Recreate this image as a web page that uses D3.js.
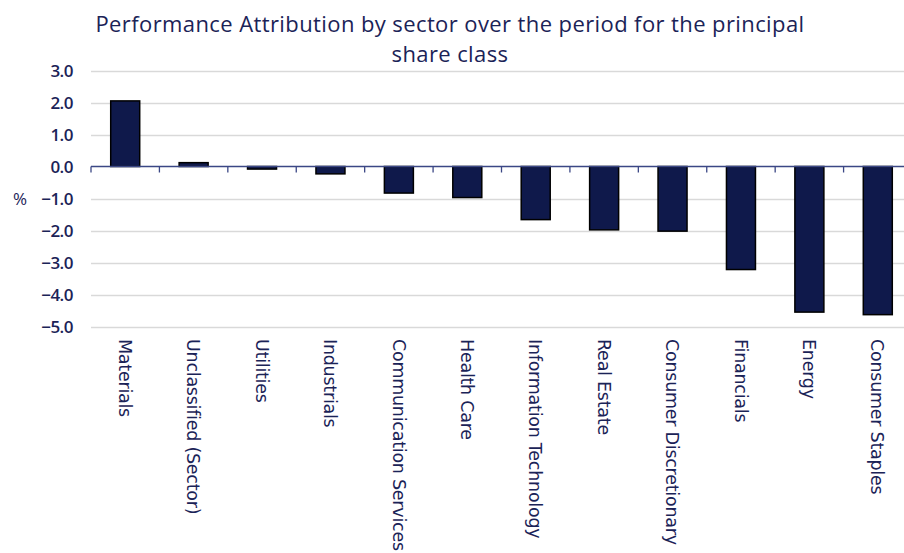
<!DOCTYPE html>
<html>
<head>
<meta charset="utf-8">
<script src="https://cdn.jsdelivr.net/npm/d3@7"></script>
<style>
  body { margin: 0; background: #fff; }
  svg { display: block; }
</style>
</head>
<body>
<script>
"use strict";

// sectors, in the order they are drawn
let sectors = ["Materials", "Unclassified (Sector)", "Utilities", "Industrials",
    "Communication Services", "Health Care", "Information Technology", "Real Estate",
    "Consumer Discretionary", "Financials", "Energy", "Consumer Staples"];
// attribution, %
let attribution = [2.05, 0.12, -0.08, -0.23, -0.83, -0.97, -1.66, -1.98, -2.02, -3.22, -4.55, -4.63];
let yTicks = [3, 2, 1, 0, -1, -2, -3, -4, -5];
let titleLines = ["Performance Attribution by sector over the period for the principal", "share class"];

let w = 904, h = 553;
let navy = "#1b2357";

let svg = d3.select("body").append("svg")
    .attr("width", w)
    .attr("height", h);

let x = d3.scaleBand()
    .domain(sectors)
    .range([91, 912])
    .paddingInner(0)
    .paddingOuter(0);

let y = d3.scaleLinear()
    .domain([-5, 3])
    .range([326.5, 70.5]);

// gridlines
svg.append("g")
    .selectAll("line")
    .data(yTicks.filter(function (d) { return d !== 0; }))
    .enter()
    .append("line")
    .attr("x1", 91)
    .attr("x2", 912)
    .attr("y1", function (d) { return Math.round(y(d)) + 0.5; })
    .attr("y2", function (d) { return Math.round(y(d)) + 0.5; })
    .style("stroke", "#d9d9d9")
    .style("stroke-width", 1.3);

// y tick labels
svg.append("g")
    .selectAll("text")
    .data(yTicks)
    .enter()
    .append("text")
    .attr("x", 73)
    .attr("y", function (d) { return y(d); })
    .attr("dy", "0.36em")
    .attr("text-anchor", "end")
    .style("font", "600 17px 'Open Sans', sans-serif")
    .style("letter-spacing", "-0.5px")
    .style("fill", navy)
    .text(function (d) { return d3.format(".1f")(d); });

svg.append("text")
    .attr("x", 20)
    .attr("y", y(-1))
    .attr("dy", "0.36em")
    .attr("text-anchor", "middle")
    .style("font", "17px 'Open Sans', sans-serif")
    .style("fill", navy)
    .text("%");

// bars
let bw = 29;
svg.append("g")
    .selectAll("rect")
    .data(attribution)
    .enter()
    .append("rect")
    .attr("x", function (d, i) { return x(sectors[i]) + x.bandwidth() / 2 - bw / 2; })
    .attr("y", function (d) { return y(Math.max(0, d)); })
    .attr("width", bw)
    .attr("height", function (d) { return Math.abs(y(d) - y(0)); })
    .style("fill", "#0f194b")
    .style("stroke", "#000")
    .style("stroke-width", 1.5);

// zero axis with ticks between categories
let axis = svg.append("g");
axis.append("line")
    .attr("x1", 91)
    .attr("x2", 912)
    .attr("y1", y(0))
    .attr("y2", y(0))
    .style("stroke", "#3b4785")
    .style("stroke-width", 1.3);
axis.selectAll(".tick")
    .data(sectors)
    .enter()
    .append("line")
    .attr("class", "tick")
    .attr("x1", function (d) { return x(d); })
    .attr("x2", function (d) { return x(d); })
    .attr("y1", y(0))
    .attr("y2", y(0) + 6)
    .style("stroke", "#3b4785")
    .style("stroke-width", 1.3);

// category labels, rotated to read top to bottom
svg.append("g")
    .selectAll("text")
    .data(sectors)
    .enter()
    .append("text")
    .attr("transform", function (d) {
        return "translate(" + (x(d) + x.bandwidth() / 2) + ",339) rotate(90)";
    })
    .attr("dy", "0.36em")
    .style("font", "17.5px 'DejaVu Sans', sans-serif")
    .style("letter-spacing", "-0.25px")
    .style("fill", navy)
    .text(function (d) { return d; });

// title
svg.append("g")
    .selectAll("text")
    .data(titleLines)
    .enter()
    .append("text")
    .attr("x", 450)
    .attr("y", function (d, i) { return 32 + i * 30; })
    .attr("text-anchor", "middle")
    .style("font", "22px 'Open Sans', sans-serif")
    .style("letter-spacing", "0.4px")
    .style("fill", navy)
    .text(function (d) { return d; });
</script>
</body>
</html>
